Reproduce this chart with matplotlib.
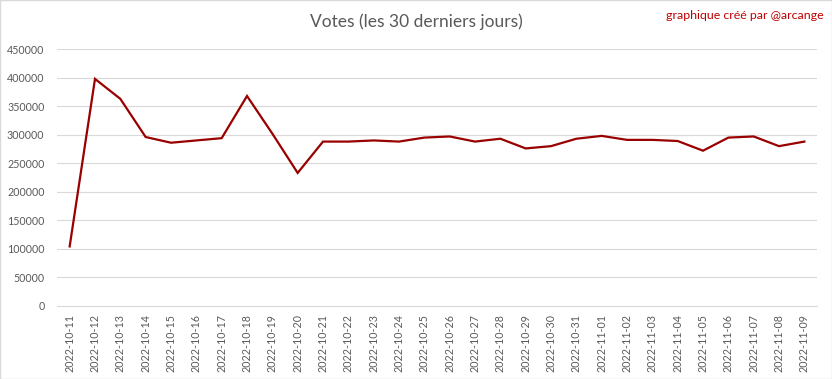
import matplotlib
matplotlib.use("Agg")
import matplotlib.pyplot as plt
from matplotlib.patches import Rectangle

dates = ["2022-10-11", "2022-10-12", "2022-10-13", "2022-10-14", "2022-10-15",
         "2022-10-16", "2022-10-17", "2022-10-18", "2022-10-19", "2022-10-20",
         "2022-10-21", "2022-10-22", "2022-10-23", "2022-10-24", "2022-10-25",
         "2022-10-26", "2022-10-27", "2022-10-28", "2022-10-29", "2022-10-30",
         "2022-10-31", "2022-11-01", "2022-11-02", "2022-11-03", "2022-11-04",
         "2022-11-05", "2022-11-06", "2022-11-07", "2022-11-08", "2022-11-09"]
votes = [104000, 398000, 363000, 296000, 286000,
         290000, 294000, 368000, 302000, 233000,
         288000, 288000, 290000, 288000, 295000,
         297000, 288000, 293000, 276000, 280000,
         293000, 298000, 291000, 291000, 289000,
         272000, 295000, 297000, 280000, 288000]
yticks = [0, 50000, 100000, 150000, 200000, 250000, 300000, 350000, 400000, 450000]

plt.rcParams['font.family'] = ['Lato', 'DejaVu Sans']

fig = plt.figure(figsize=(8.32, 3.79), dpi=100)
ax = fig.add_axes([0.0685, 0.1934, 0.9135, 0.6766])

x = list(range(len(dates)))
ax.plot(x, votes, color="#990000", linewidth=1.6, solid_joinstyle="miter")

ax.set_xlim(-0.5, len(dates) - 0.5)
ax.set_ylim(0, 450000)
ax.set_yticks(yticks)
ax.set_yticklabels([str(v) for v in yticks])
ax.set_xticks(x)
ax.set_xticklabels(dates, rotation=90)
ax.tick_params(axis="both", length=0, colors="#595959", labelsize=7.7)
ax.tick_params(axis="y", pad=9)
ax.tick_params(axis="x", pad=6)
ax.grid(axis="y", color="#d9d9d9", linewidth=0.8)
ax.set_axisbelow(True)
for s in ["top", "right", "left"]:
    ax.spines[s].set_visible(False)
ax.spines["bottom"].set_color("#d9d9d9")
ax.spines["bottom"].set_linewidth(0.8)

fig.text(0.5, 0.942, "Votes (les 30 derniers jours)", ha="center", va="center",
         fontsize=12.5, color="#595959")
fig.text(0.99, 0.958, "graphique créé par @arcange", ha="right", va="center",
         fontsize=8.9, color="#c00000")

fig.add_artist(Rectangle((0.0006, 0.0013), 0.9988, 0.9974, transform=fig.transFigure,
                         fill=False, edgecolor="#d9d9d9", linewidth=1))

fig.savefig("out.png", dpi=100)
